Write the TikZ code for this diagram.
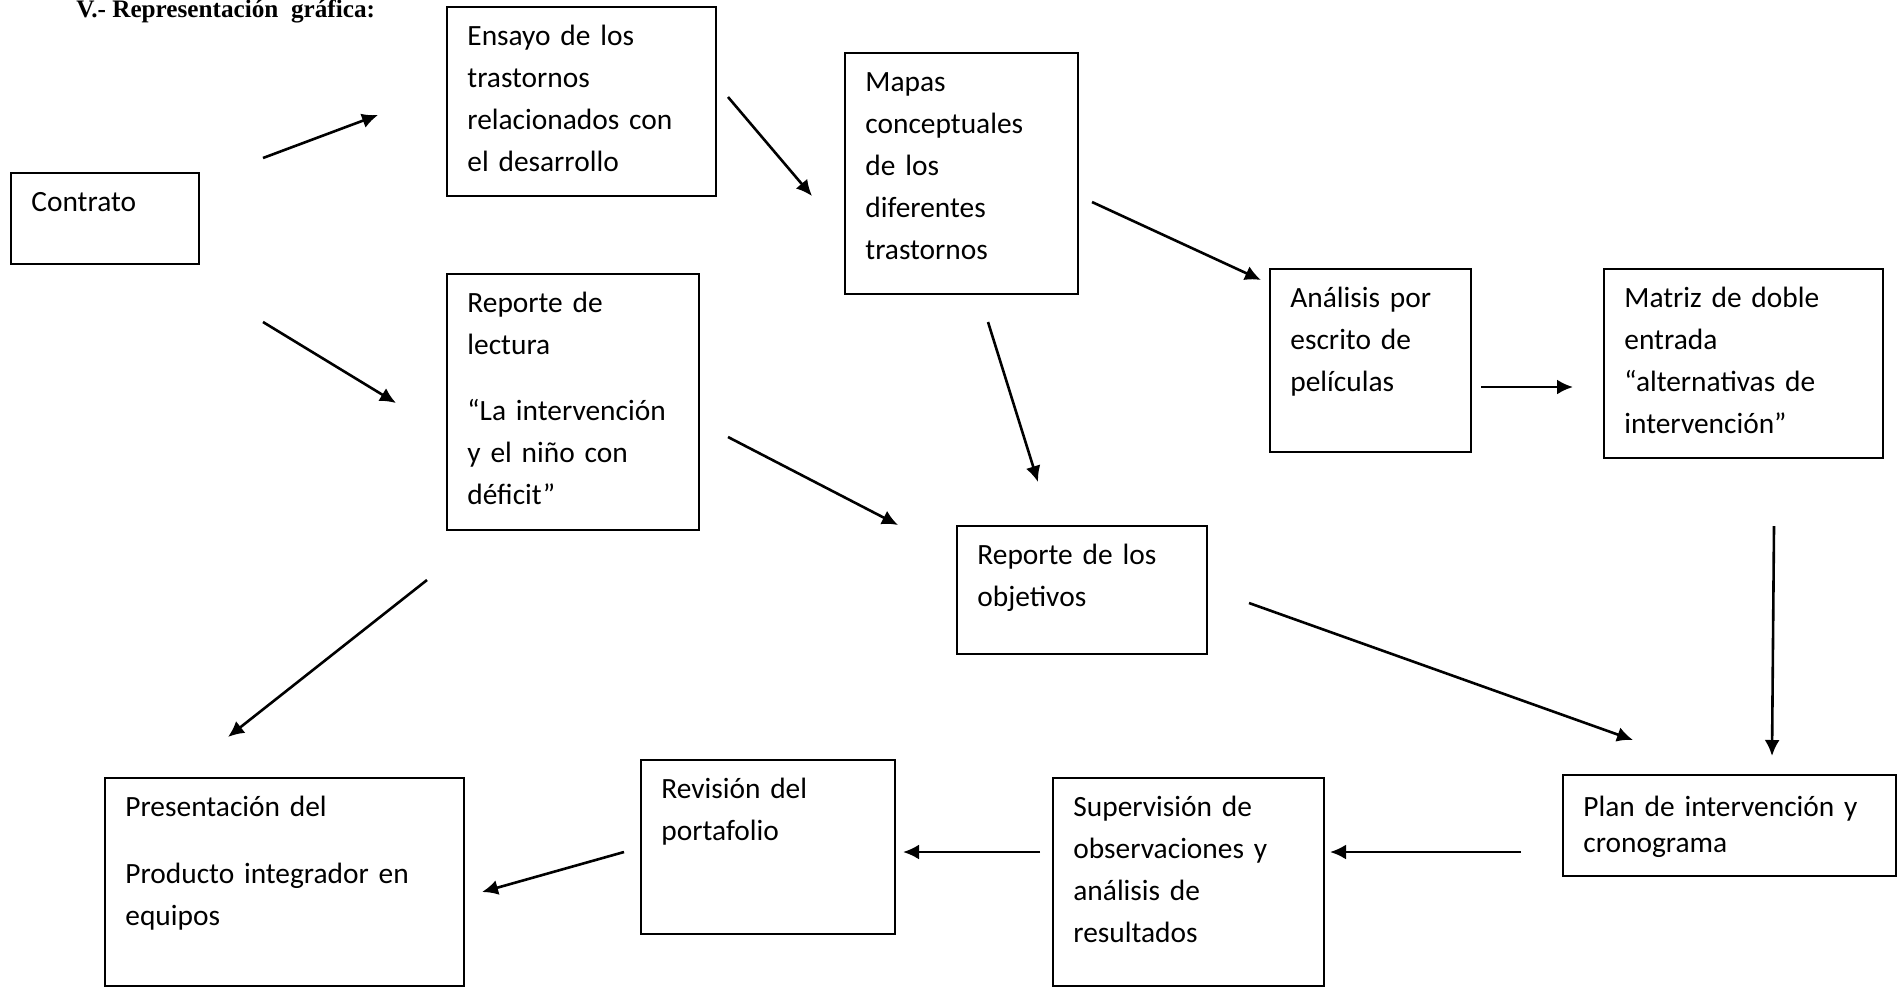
\documentclass[tikz,border=0pt]{standalone}
\usepackage{fontspec}
\setmainfont{Carlito}[WordSpace=0.8]
\newfontfamily\tituloserif{Liberation Serif}
\usetikzlibrary{arrows.meta}
\tikzset{
  caja/.style={draw, line width=1pt, rectangle, inner sep=0pt},
  texto/.style={anchor=base west, align=left, text width=190pt, inner sep=0pt,
    font=\fontsize{14.7}{21}\selectfont},
  flecha/.style={-{Latex[length=8pt,width=7.5pt]}, line width=1.3pt},
}
\begin{document}
\begin{tikzpicture}[x=0.5pt,y=-0.5pt]
\useasboundingbox (0,0) rectangle (1900,987);
% titulo
\node[anchor=base west, inner sep=0pt, font=\tituloserif\bfseries\fontsize{12.6}{14}\selectfont]
  (titulo) at (76,17) {V.- Representación\ \ gráfica:};
% cajas
\node[caja, minimum width=94pt, minimum height=45.5pt] (contrato) at (105,218.5) {};
\node[caja, minimum width=134.5pt, minimum height=94.5pt] (ensayo) at (581.5,101.5) {};
\node[caja, minimum width=126pt, minimum height=128pt] (lectura) at (573,402) {};
\node[caja, minimum width=116.5pt, minimum height=120.5pt] (mapas) at (961.5,173.5) {};
\node[caja, minimum width=100.5pt, minimum height=91.5pt] (analisis) at (1370.5,360.5) {};
\node[caja, minimum width=139.5pt, minimum height=94.5pt] (matriz) at (1743.5,363.5) {};
\node[caja, minimum width=125pt, minimum height=64pt] (objetivos) at (1082,590) {};
\node[caja, minimum width=179.5pt, minimum height=104pt] (presentacion) at (284.5,882) {};
\node[caja, minimum width=127pt, minimum height=87pt] (revision) at (768,847) {};
\node[caja, minimum width=135.5pt, minimum height=104pt] (supervision) at (1188.5,882) {};
\node[caja, minimum width=166.5pt, minimum height=50.5pt] (plan) at (1729.5,825.5) {};
% textos
\node[texto] (contrato-t) at ([shift={(21,39)}]contrato.north west) {Contrato};
\node[texto] (ensayo-t) at ([shift={(21,39)}]ensayo.north west)
  {Ensayo de los\\trastornos\\relacionados con\\el desarrollo};
\node[texto] (lectura-t) at ([shift={(21,39)}]lectura.north west)
  {Reporte de\\lectura\\[12pt]“La intervención\\y el niño con\\déficit”};
\node[texto] (mapas-t) at ([shift={(21,39)}]mapas.north west)
  {Mapas\\conceptuales\\de los\\diferentes\\trastornos};
\node[texto] (analisis-t) at ([shift={(21,39)}]analisis.north west)
  {Análisis por\\escrito de\\películas};
\node[texto] (matriz-t) at ([shift={(21,39)}]matriz.north west)
  {Matriz de doble\\entrada\\“alternativas de\\intervención”};
\node[texto] (objetivos-t) at ([shift={(21,39)}]objetivos.north west)
  {Reporte de los\\objetivos};
\node[texto] (presentacion-t) at ([shift={(21,39)}]presentacion.north west)
  {Presentación del\\[12.5pt]Producto integrador en\\equipos};
\node[texto] (revision-t) at ([shift={(21,39)}]revision.north west)
  {Revisión del\\portafolio};
\node[texto] (supervision-t) at ([shift={(21,39)}]supervision.north west)
  {Supervisión de\\observaciones y\\análisis de\\resultados};
\node[texto, font=\fontsize{14.7}{18}\selectfont] (plan-t) at ([shift={(21,42)}]plan.north west)
  {Plan de intervención y\\cronograma};
% extremos de las flechas
\coordinate (a1) at (263,158);   \coordinate (b1) at (378,115);   % contrato -> ensayo
\coordinate (a2) at (263,322);   \coordinate (b2) at (396,403);   % contrato -> lectura
\coordinate (a3) at (728,97);    \coordinate (b3) at (812,196);   % ensayo -> mapas
\coordinate (a4) at (1092,202);  \coordinate (b4) at (1261,280);  % mapas -> analisis
\coordinate (a5) at (988,322);   \coordinate (b5) at (1038,482);  % mapas -> objetivos
\coordinate (a6) at (728,437);   \coordinate (b6) at (898,525);   % lectura -> objetivos
\coordinate (a7) at (1481,387);  \coordinate (b7) at (1573,387);  % analisis -> matriz
\coordinate (a8) at (1774,526);  \coordinate (b8) at (1772,756);  % matriz -> plan
\coordinate (a9) at (1249,603);  \coordinate (b9) at (1633,740);  % objetivos -> plan
\coordinate (a10) at (1521,852); \coordinate (b10) at (1330,852); % plan -> supervision
\coordinate (a11) at (1040,852); \coordinate (b11) at (903,852);  % supervision -> revision
\coordinate (a12) at (624,852);  \coordinate (b12) at (482,892);  % revision -> presentacion
\coordinate (a13) at (427,580);  \coordinate (b13) at (228,737);  % lectura -> presentacion
\foreach \i in {1,...,13}
  \draw[flecha] (a\i) -- (b\i);
\end{tikzpicture}
\end{document}
